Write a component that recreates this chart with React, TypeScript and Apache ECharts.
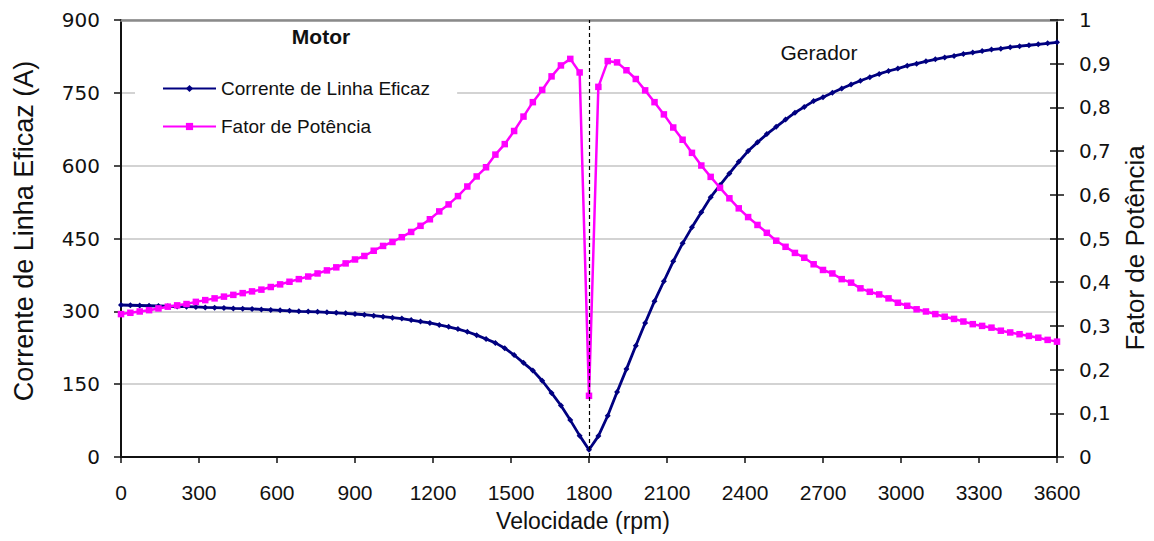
import React, { useEffect, useRef } from "react";
import * as echarts from "echarts";

// Velocidade (rpm)
const velocidade = [
  0, 36, 72, 108, 144, 180, 216, 252, 288, 324,
  360, 396, 432, 468, 504, 540, 576, 612, 648, 684,
  720, 756, 792, 828, 864, 900, 936, 972, 1008, 1044,
  1080, 1116, 1152, 1188, 1224, 1260, 1296, 1332, 1368, 1404,
  1440, 1476, 1512, 1548, 1584, 1620, 1656, 1692, 1728, 1764,
  1800, 1836, 1872, 1908, 1944, 1980, 2016, 2052, 2088, 2124,
  2160, 2196, 2232, 2268, 2304, 2340, 2376, 2412, 2448, 2484,
  2520, 2556, 2592, 2628, 2664, 2700, 2736, 2772, 2808, 2844,
  2880, 2916, 2952, 2988, 3024, 3060, 3096, 3132, 3168, 3204,
  3240, 3276, 3312, 3348, 3384, 3420, 3456, 3492, 3528, 3564,
  3600,
];

// Corrente de Linha Eficaz (A)
const corrente = [
  313, 312.5, 312, 311.5, 311, 310.5, 310, 309.5, 309, 308,
  307.5, 307, 306, 305.5, 305, 304, 303, 302, 301, 300,
  299.5, 299, 298, 297, 296, 294.5, 293, 291, 289, 287,
  285, 282, 279, 276, 272, 268, 263.5, 258, 251, 243,
  235, 224, 210, 194, 178, 157, 132, 106, 76, 44,
  15, 43, 85, 134, 181, 229, 276, 321, 362, 403,
  440, 473, 504, 535, 560, 584, 608, 630, 648, 665,
  680, 695, 709, 721, 733, 741, 750, 759, 767, 775,
  782, 789, 795, 800, 806, 810, 815, 819, 823, 826,
  830, 833, 836, 839, 841, 844, 846, 848, 850, 852,
  854,
];

// Fator de Potência
const fatorPotencia = [
  0.327, 0.33, 0.333, 0.336, 0.34, 0.344, 0.347, 0.35, 0.355, 0.359,
  0.363, 0.367, 0.371, 0.375, 0.379, 0.383, 0.389, 0.395, 0.401, 0.407,
  0.413, 0.42, 0.427, 0.434, 0.443, 0.452, 0.46, 0.472, 0.483, 0.492,
  0.503, 0.515, 0.529, 0.544, 0.562, 0.578, 0.597, 0.619, 0.642, 0.663,
  0.692, 0.716, 0.746, 0.779, 0.812, 0.84, 0.871, 0.896, 0.911, 0.88,
  0.14, 0.847, 0.906, 0.903, 0.885, 0.865, 0.839, 0.812, 0.784, 0.754,
  0.726, 0.696, 0.667, 0.641, 0.616, 0.592, 0.569, 0.549, 0.531, 0.513,
  0.495, 0.481, 0.467, 0.456, 0.441, 0.428, 0.42, 0.407, 0.399, 0.386,
  0.378, 0.372, 0.363, 0.353, 0.346, 0.338, 0.333, 0.327, 0.321, 0.316,
  0.31, 0.304, 0.3, 0.296, 0.289, 0.285, 0.281, 0.277, 0.273, 0.268,
  0.264,
];

const rightTickLabels = ["0", "0,1", "0,2", "0,3", "0,4", "0,5", "0,6", "0,7", "0,8", "0,9", "1"];

const serieCorrente = "Corrente de Linha Eficaz";
const serieFator = "Fator de Potência";
const velocidadeSincrona = 1800;

const FONT = "'Liberation Sans', Arial, Helvetica, sans-serif";
const FONT_WIDE = "'DejaVu Sans', 'Liberation Sans', Arial, sans-serif";

export default function App() {
  const ref = useRef<HTMLDivElement>(null);

  useEffect(() => {
    if (!ref.current) return;
    const chart = echarts.init(ref.current, null, { renderer: "svg" });

    const dataCorrente = velocidade.map((v, i) => [v, corrente[i]]);
    const dataFator = velocidade.map((v, i) => [v, fatorPotencia[i]]);

    chart.setOption({
      animation: false,
      backgroundColor: "#ffffff",
      grid: { left: 121, right: 97, top: 20, bottom: 84, containLabel: false },
      legend: {
        orient: "vertical",
        left: 135,
        top: 68,
        padding: [11, 27, 18, 27],
        backgroundColor: "#ffffff",
        itemWidth: 53,
        itemHeight: 9,
        itemGap: 19,
        textStyle: { fontFamily: FONT, fontSize: 19, color: "#111" },
        data: [serieCorrente, serieFator],
      },
      xAxis: [
        {
          type: "value",
          min: 0,
          max: 3600,
          interval: 300,
          position: "bottom",
          axisLine: { show: true, onZero: false, lineStyle: { color: "#111", width: 2 } },
          axisTick: { show: true, inside: false, length: 6, lineStyle: { color: "#111", width: 1.5 } },
          axisLabel: { margin: 25, fontFamily: FONT, fontSize: 21, color: "#111", formatter: (v: number) => String(v) },
          splitLine: { show: false },
        },
        {
          type: "value",
          min: 0,
          max: 3600,
          position: "top",
          axisLine: { show: true, onZero: false, lineStyle: { color: "#8a8a8a", width: 2.5 } },
          axisTick: { show: false },
          axisLabel: { show: false },
          splitLine: { show: false },
        },
      ],
      yAxis: [
        {
          type: "value",
          min: 0,
          max: 900,
          interval: 150,
          position: "left",
          axisLine: { show: true, onZero: false, lineStyle: { color: "#111", width: 2 } },
          axisTick: { show: true, inside: false, length: 7, lineStyle: { color: "#111", width: 1.5 } },
          axisLabel: { margin: 21, fontFamily: FONT_WIDE, fontSize: 20, color: "#111" },
          splitLine: { show: true, lineStyle: { color: "#c4c4c4", width: 1.5 } },
        },
        {
          type: "value",
          min: 0,
          max: 1,
          interval: 0.1,
          position: "right",
          axisLine: { show: true, onZero: false, lineStyle: { color: "#111", width: 2 } },
          axisTick: { show: true, inside: false, length: 7, lineStyle: { color: "#111", width: 1.5 } },
          axisLabel: {
            margin: 22,
            fontFamily: FONT_WIDE,
            fontSize: 20,
            color: "#111",
            formatter: (v: number) => rightTickLabels[Math.round(v * 10)] ?? String(v),
          },
          splitLine: { show: false },
        },
        {
          type: "value",
          min: 0,
          max: 1,
          interval: 0.1,
          position: "right",
          axisLine: { show: true, onZero: false, lineStyle: { color: "#111", width: 2 } },
          axisTick: { show: true, inside: true, length: 7, lineStyle: { color: "#111", width: 1.5 } },
          axisLabel: { show: false },
          splitLine: { show: false },
        },
      ],
      series: [
        {
          name: serieCorrente,
          type: "line",
          xAxisIndex: 0,
          yAxisIndex: 0,
          data: dataCorrente,
          symbol: "diamond",
          symbolSize: 6,
          showAllSymbol: true,
          lineStyle: { color: "#000080", width: 2.8 },
          itemStyle: { color: "#000080" },
          z: 3,
          markLine: {
            silent: true,
            symbol: "none",
            label: { show: false },
            lineStyle: { color: "#000", type: [4, 3], width: 1.2 },
            data: [{ xAxis: velocidadeSincrona }],
          },
        },
        {
          name: serieFator,
          type: "line",
          xAxisIndex: 0,
          yAxisIndex: 1,
          data: dataFator,
          symbol: "rect",
          symbolSize: 6.5,
          showAllSymbol: true,
          lineStyle: { color: "#ff00ff", width: 2.5 },
          itemStyle: { color: "#ff00ff" },
          z: 4,
        },
      ],
      graphic: [
        {
          type: "text",
          x: 321,
          y: 36,
          style: { text: "Motor", fontFamily: FONT, fontSize: 21, fontWeight: "bold", fill: "#111", align: "center", verticalAlign: "middle" },
        },
        {
          type: "text",
          x: 819,
          y: 52,
          style: { text: "Gerador", fontFamily: FONT, fontSize: 21, fontWeight: "normal", fill: "#111", align: "center", verticalAlign: "middle" },
        },
        {
          type: "text",
          x: 24,
          y: 231,
          rotation: Math.PI / 2,
          style: { text: "Corrente de Linha Eficaz (A)", fontFamily: FONT, fontSize: 27, fill: "#111", align: "center", verticalAlign: "middle" },
        },
        {
          type: "text",
          x: 1135,
          y: 248,
          rotation: Math.PI / 2,
          style: { text: "Fator de Potência", fontFamily: FONT, fontSize: 26, fill: "#111", align: "center", verticalAlign: "middle" },
        },
        {
          type: "text",
          x: 583,
          y: 521,
          style: { text: "Velocidade (rpm)", fontFamily: FONT, fontSize: 23, fill: "#111", align: "center", verticalAlign: "middle" },
        },
      ],
    });

    return () => chart.dispose();
  }, []);

  return <div ref={ref} style={{ position: "absolute", left: 0, top: 0, width: 1154, height: 541 }} />;
}
